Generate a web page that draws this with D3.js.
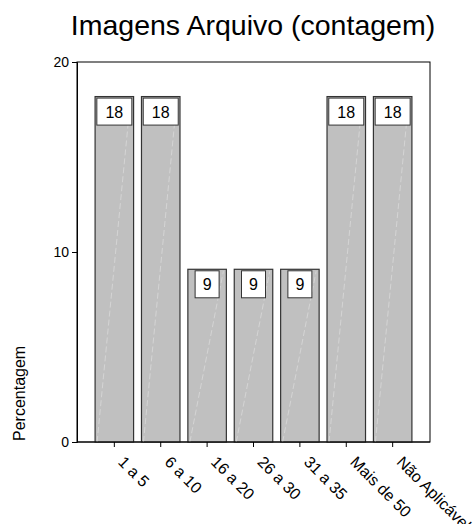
<!DOCTYPE html>
<html>
<head>
<meta charset="utf-8">
<script src="https://cdn.jsdelivr.net/npm/d3@7"></script>
<style>
  body { margin: 0; background: #fff; }
  text { font-family: Arial, "Liberation Sans", sans-serif; fill: #000; }
</style>
</head>
<body>
<div id="chart"></div>
<script>
// Chart data
var categories = ["1 a 5", "6 a 10", "16 a 20", "26 a 30", "31 a 35", "Mais de 50", "Não Aplicável"];
var percents = [18.18, 18.18, 9.09, 9.09, 9.09, 18.18, 18.18];
var barLabels = ["18", "18", "9", "9", "9", "18", "18"];
var yTicks = [0, 10, 20];

var svgWidth = 475;
var svgHeight = 524;

var margin = { top: 62, right: 45, bottom: 82, left: 77 };
var chartWidth = svgWidth - margin.left - margin.right;
var chartHeight = svgHeight - margin.top - margin.bottom;

var svg = d3.select("#chart")
    .append("svg")
    .attr("width", svgWidth)
    .attr("height", svgHeight);

// title
svg.append("text")
    .attr("x", 253)
    .attr("y", 35)
    .attr("text-anchor", "middle")
    .style("font-size", "28.5px")
    .text("Imagens Arquivo (contagem)");

var chartGroup = svg.append("g")
    .attr("transform", `translate(${margin.left}, ${margin.top})`);

var xScale = d3.scaleBand()
    .domain(categories)
    .range([0, chartWidth])
    .paddingInner(0.17)
    .paddingOuter(0.39);

var yScale = d3.scaleLinear()
    .domain([0, 20])
    .range([chartHeight, 0]);

// frame (top and right)
chartGroup.append("rect")
    .attr("x", 0)
    .attr("y", 0)
    .attr("width", chartWidth)
    .attr("height", chartHeight)
    .attr("fill", "none")
    .attr("stroke", "#000")
    .attr("stroke-width", 1);

// bars
var bars = chartGroup.selectAll(".bar")
    .data(percents)
    .enter().append("g")
    .attr("class", "bar");

bars.append("rect")
    .attr("x", (d, i) => xScale(categories[i]))
    .attr("y", d => yScale(d))
    .attr("width", xScale.bandwidth())
    .attr("height", d => chartHeight - yScale(d))
    .attr("fill", "#c0c0c0")
    .attr("stroke", "#333")
    .attr("stroke-width", 1.2);

// faint diagonal highlight inside the bars
bars.append("line")
    .attr("x1", (d, i) => xScale(categories[i]) + 2)
    .attr("y1", chartHeight)
    .attr("x2", (d, i) => xScale(categories[i]) + xScale.bandwidth() - 3)
    .attr("y2", d => yScale(d) + 2)
    .attr("stroke", "#dcdcdc")
    .attr("stroke-width", 0.7)
    .attr("stroke-dasharray", "6,3");

// value label boxes
bars.append("rect")
    .attr("x", (d, i) => xScale(categories[i]) + xScale.bandwidth() / 2 - (barLabels[i].length > 1 ? 17.5 : 12))
    .attr("y", d => yScale(d) + 1.5)
    .attr("width", (d, i) => barLabels[i].length > 1 ? 35 : 24)
    .attr("height", 27)
    .attr("fill", "#fff")
    .attr("stroke", "#333")
    .attr("stroke-width", 1);

bars.append("text")
    .attr("x", (d, i) => xScale(categories[i]) + xScale.bandwidth() / 2)
    .attr("y", d => yScale(d) + 21)
    .attr("text-anchor", "middle")
    .style("font-size", "16px")
    .text((d, i) => barLabels[i]);

// axes
var leftAxis = d3.axisLeft(yScale).tickValues(yTicks).tickSize(5).tickPadding(3);
var bottomAxis = d3.axisBottom(xScale).tickSize(5).tickPadding(4);

var yAxisG = chartGroup.append("g")
    .call(leftAxis);
yAxisG.select(".domain").attr("stroke", "#000");
yAxisG.selectAll("text").style("font-size", "14px").attr("fill", "#000");

var xAxisG = chartGroup.append("g")
    .attr("transform", "translate(0, " + chartHeight + ")")
    .call(bottomAxis);
xAxisG.select(".domain").attr("d", "M0,0H" + chartWidth);
xAxisG.selectAll("text")
    .style("font-size", "16px")
    .attr("fill", "#000")
    .attr("text-anchor", "start")
    .attr("y", 0)
    .attr("dy", "0")
    .attr("transform", "translate(3, 21) rotate(45)");

// y label
svg.append("text")
    .attr("transform", "translate(25, 441) rotate(-90)")
    .attr("text-anchor", "start")
    .style("font-size", "16px")
    .text("Percentagem");
</script>
</body>
</html>
